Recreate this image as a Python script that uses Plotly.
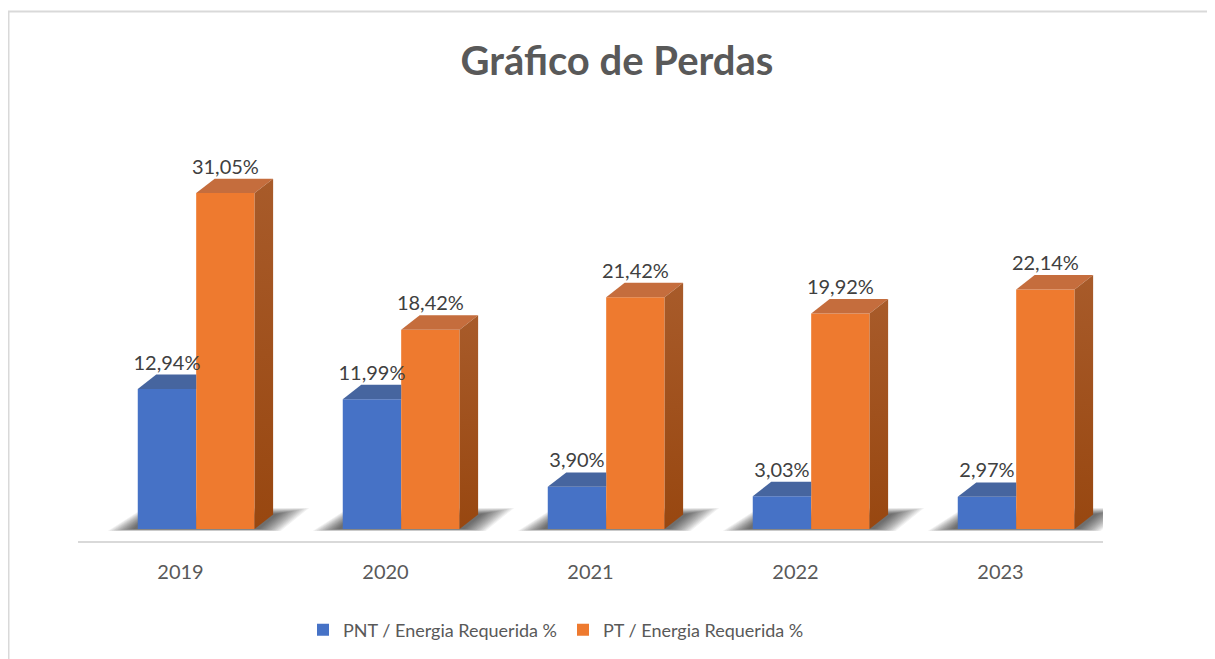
import plotly.graph_objects as go

# ---------------- data ----------------
years = ["2019", "2020", "2021", "2022", "2023"]
pnt_values = [12.94, 11.99, 3.90, 3.03, 2.97]   # PNT / Energia Requerida %
pt_values = [31.05, 18.42, 21.42, 19.92, 22.14]  # PT / Energia Requerida %
series_names = ["PNT / Energia Requerida %", "PT / Energia Requerida %"]

# ---------------- style / geometry ----------------
FONT = "Lato"
PX_X = 205.0           # pixels per category
PX_Y = 10.82           # pixels per value unit
BAR_W = 0.285          # width of a bar front face (category units)
OFF_B = -0.2085        # offset of blue bar left edge from category centre
OFF_O = OFF_B + BAR_W  # orange sits immediately right of blue
DX = 18.5 / PX_X       # 3D depth, x direction (category units)
DY = 14.4 / PX_Y       # 3D depth, y direction (value units)

BLUE = "#4672C6"
ORANGE = "#EE7A2F"
BLUE_TOP = "#46659F"
ORANGE_TOP = "#C56D3D"
ORANGE_SIDE_TOP = "#A85B2A"
ORANGE_SIDE_BOT = "#984710"

PAGE = 8  # page offset of the figure inside the browser window

idx = list(range(len(years)))


def fmt(v):
    return f"{v:.2f}".replace(".", ",") + "%"


fig = go.Figure()

# front faces (real bars)
fig.add_trace(go.Bar(x=idx, y=pnt_values, width=BAR_W, offset=OFF_B,
                     marker=dict(color=BLUE, line=dict(width=0)),
                     name=series_names[0]))
fig.add_trace(go.Bar(x=idx, y=pt_values, width=BAR_W, offset=OFF_O,
                     marker=dict(color=ORANGE, line=dict(width=0)),
                     name=series_names[1]))

# 3D top / side faces derived from the data values
for i, (b, o) in enumerate(zip(pnt_values, pt_values)):
    bl = i + OFF_B
    br = bl + BAR_W
    ol = i + OFF_O
    orr = ol + BAR_W
    # blue top face (the part right of the blue bar is hidden behind orange)
    fig.add_trace(go.Scatter(
        x=[bl, bl + DX, br, br, bl], y=[b, b + DY, b + DY, b, b],
        mode="lines", fill="toself", fillcolor=BLUE_TOP,
        line=dict(width=0), showlegend=False, hoverinfo="skip"))
    # orange top face
    fig.add_trace(go.Scatter(
        x=[ol, ol + DX, orr + DX, orr, ol], y=[o, o + DY, o + DY, o, o],
        mode="lines", fill="toself", fillcolor=ORANGE_TOP,
        line=dict(width=0), showlegend=False, hoverinfo="skip"))
    # orange side face
    fig.add_trace(go.Scatter(
        x=[orr, orr, orr + DX, orr + DX, orr], y=[0, o, o + DY, DY, 0],
        mode="lines", fill="toself",
        fillgradient=dict(type="vertical",
                          colorscale=[[0, ORANGE_SIDE_BOT], [1, ORANGE_SIDE_TOP]]),
        line=dict(width=0), showlegend=False, hoverinfo="skip"))

# data labels
label_x = [i + OFF_B + BAR_W / 2 for i in idx] + [i + OFF_O + BAR_W / 2 for i in idx]
label_y = [v + DY for v in pnt_values] + [v + DY for v in pt_values]
label_t = [fmt(v) for v in pnt_values] + [fmt(v) for v in pt_values]
fig.add_trace(go.Scatter(x=label_x, y=label_y, text=label_t, mode="text",
                         textposition="top center",
                         textfont=dict(family=FONT, size=20, color="#404040"),
                         showlegend=False, hoverinfo="skip"))

# soft floor shadows (below the bars): layered parallelograms
shapes = []
N = 14


def lerp(a, b, t):
    return a + (b - a) * t


for i in idx:
    xl = i + OFF_B
    xr = i + OFF_O + BAR_W
    for k in range(N):
        f = 1 - k / N  # 1 = outermost, ->0 = innermost
        blx = xl - lerp(3, 30, f) / PX_X
        bly = -lerp(0, 2, f) / PX_Y
        tlx = xl + lerp(2, 6, f) / PX_X
        tly = lerp(6, 21, f) / PX_Y
        trx = xr + DX + lerp(3, 36, f) / PX_X
        try_ = lerp(15, 21, f) / PX_Y
        brx = xr + lerp(3, 26, f) / PX_X
        bry = -lerp(0, 2, f) / PX_Y
        path = (f"M {blx},{bly} L {tlx},{tly} L {trx},{try_} "
                f"L {brx},{bry} Z")
        shapes.append(dict(type="path", xref="x", yref="y", layer="below",
                           path=path, fillcolor="rgba(0,0,0,0.055)",
                           line=dict(width=0)))

# plot area in page pixels: left 78, right 1103, top 100, bottom 541
L, R, T, B = 78 - PAGE, 1103 - PAGE, 100 - PAGE, 541 - PAGE
W_FIG, H_FIG = 1215, 659
plot_w = R - L
plot_h = B - T

# chart border (page x=8.5, y=11.5)
shapes.append(dict(type="rect", xref="paper", yref="paper",
                   x0=(8.5 - 78) / plot_w, x1=1.3, y0=-0.4,
                   y1=(541 - 11.5) / plot_h,
                   line=dict(color="#D9D9D9", width=2), fillcolor="rgba(0,0,0,0)"))

fig.update_layout(
    width=W_FIG, height=H_FIG,
    margin=dict(l=L, r=W_FIG - R, t=T, b=H_FIG - B),
    paper_bgcolor="white", plot_bgcolor="white",
    barmode="overlay",
    title=dict(text="<b>Gráfico de Perdas</b>", x=(617 - PAGE) / W_FIG, xref="container",
               xanchor="center", y=1 - (61 - PAGE) / H_FIG, yref="container",
               yanchor="middle",
               font=dict(family=FONT, size=40, color="#595959")),
    xaxis=dict(range=[-0.5, 4.5], tickvals=idx, ticktext=years,
               showgrid=False, zeroline=False, showline=True,
               linecolor="#D9D9D9", linewidth=2, ticks="",
               ticklabelstandoff=12,
               tickfont=dict(family=FONT, size=20, color="#595959")),
    yaxis=dict(range=[-12 / PX_Y, -12 / PX_Y + 441 / PX_Y], visible=False,
               showgrid=False, zeroline=False),
    legend=dict(orientation="h", x=(563 - 78) / plot_w, xanchor="center",
                y=(541 - 630) / plot_h, yanchor="middle",
                entrywidth=215, entrywidthmode="pixels",
                font=dict(family=FONT, size=18, color="#595959"),
                traceorder="normal"),
    shapes=shapes,
    showlegend=True,
)

fig.write_html("out.html")
